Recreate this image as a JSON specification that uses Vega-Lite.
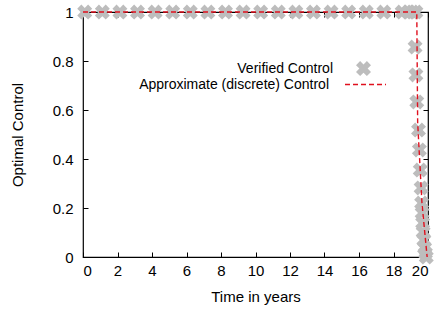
{
  "$schema": "https://vega.github.io/schema/vega-lite/v6.json",
  "width": 345,
  "height": 245,
  "autosize": {"type": "none"},
  "padding": {"left": 83, "top": 12, "right": 20, "bottom": 58},
  "background": "white",
  "config": {
    "view": {"stroke": "black", "strokeWidth": 1.2},
    "font": "Liberation Sans",
    "axis": {
      "domain": false,
      "grid": false,
      "tickColor": "black",
      "tickSize": -5,
      "labelFont": "Liberation Sans",
      "labelFontSize": 15,
      "labelColor": "black",
      "titleFont": "Liberation Sans",
      "titleFontSize": 15,
      "titleFontWeight": "normal",
      "titleColor": "black"
    },
    "legend": {
      "labelFont": "Liberation Sans",
      "labelFontSize": 14,
      "labelColor": "black",
      "labelLimit": 400
    }
  },
  "datasets": {
    "verified": [
      {"t": 0.1, "u": 1}, {"t": 1.12, "u": 1}, {"t": 2.14, "u": 1}, {"t": 3.16, "u": 1},
      {"t": 4.18, "u": 1}, {"t": 5.2, "u": 1}, {"t": 6.22, "u": 1}, {"t": 7.24, "u": 1},
      {"t": 8.26, "u": 1}, {"t": 9.28, "u": 1}, {"t": 10.3, "u": 1}, {"t": 11.32, "u": 1},
      {"t": 12.34, "u": 1}, {"t": 13.36, "u": 1}, {"t": 14.38, "u": 1}, {"t": 15.4, "u": 1},
      {"t": 16.42, "u": 1}, {"t": 17.44, "u": 1}, {"t": 18.5, "u": 1}, {"t": 18.85, "u": 1},
      {"t": 19.1, "u": 1}, {"t": 19.3, "u": 1},
      {"t": 19.25, "u": 0.857}, {"t": 19.3, "u": 0.743}, {"t": 19.35, "u": 0.633},
      {"t": 19.45, "u": 0.518}, {"t": 19.5, "u": 0.437}, {"t": 19.55, "u": 0.355},
      {"t": 19.6, "u": 0.282}, {"t": 19.63, "u": 0.22}, {"t": 19.66, "u": 0.18},
      {"t": 19.69, "u": 0.139}, {"t": 19.72, "u": 0.102}, {"t": 19.76, "u": 0.069},
      {"t": 19.8, "u": 0.037}, {"t": 19.85, "u": 0.016}, {"t": 19.9, "u": 0.0}
    ],
    "approx": [
      {"t": 0, "u": 1}, {"t": 19.35, "u": 1}, {"t": 19.4, "u": 0.55},
      {"t": 19.65, "u": 0.22}, {"t": 19.95, "u": 0}
    ]
  },
  "layer": [
    {
      "data": {"name": "verified"},
      "mark": {"type": "point", "filled": true, "color": "#bdbdbd", "opacity": 1, "size": 225,
               "shape": "M-1,-0.45L-0.45,-1L0,-0.55L0.45,-1L1,-0.45L0.55,0L1,0.45L0.45,1L0,0.55L-0.45,1L-1,0.45L-0.55,0Z"},
      "encoding": {
        "x": {"field": "t", "type": "quantitative", "scale": {"domain": [0, 20], "nice": false, "zero": false},
              "axis": {"orient": "bottom", "values": [0,2,4,6,8,10,12,14,16,18,20], "labelPadding": 11, "title": "Time in years", "titlePadding": 11}},
        "y": {"field": "u", "type": "quantitative", "scale": {"domain": [0, 1], "nice": false},
              "axis": {"orient": "left", "values": [0,0.2,0.4,0.6,0.8,1], "format": "~g", "labelPadding": 15, "title": "Optimal Control", "titlePadding": 27}},
        "shape": {"datum": "Verified Control", "type": "nominal",
                  "scale": {"range": ["M-1,-0.45L-0.45,-1L0,-0.55L0.45,-1L1,-0.45L0.55,0L1,0.45L0.45,1L0,0.55L-0.45,1L-1,0.45L-0.55,0Z"]},
                  "legend": {"title": null, "orient": "none", "legendX": 273, "legendY": 49,
                             "symbolSize": 225, "symbolFillColor": "#bdbdbd", "symbolStrokeColor": "#bdbdbd", "symbolOpacity": 1,
                             "labelAlign": "right", "labelOffset": -38, "symbolStrokeWidth": 0}}
      }
    },
    {
      "data": {"name": "approx"},
      "mark": {"type": "line", "color": "#e0101e", "strokeWidth": 1.4, "strokeDash": [5, 3]},
      "encoding": {
        "x": {"field": "t", "type": "quantitative",
              "axis": {"orient": "top", "values": [0,2,4,6,8,10,12,14,16,18,20], "labels": false, "title": null}},
        "y": {"field": "u", "type": "quantitative",
              "axis": {"orient": "right", "values": [0,0.2,0.4,0.6,0.8,1], "labels": false, "title": null}},
        "strokeDash": {"datum": "Approximate (discrete) Control", "type": "nominal",
                       "scale": {"range": [[5, 3]]},
                       "legend": {"title": null, "orient": "none", "legendX": 261, "legendY": 51,
                                  "symbolSize": 1681, "symbolStrokeColor": "#e0101e", "symbolStrokeWidth": 1.4,
                                  "labelAlign": "right", "labelOffset": -58}}
      }
    }
  ]
}
